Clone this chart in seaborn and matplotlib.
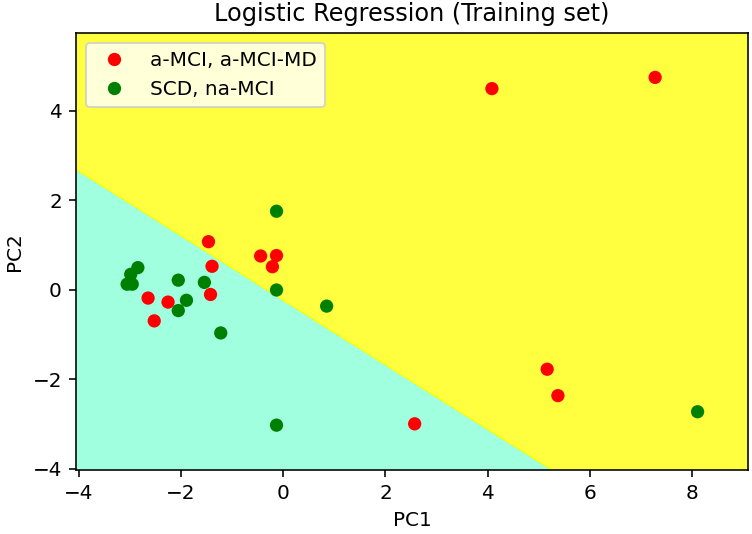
import numpy as np
import pandas as pd
import matplotlib
matplotlib.use("Agg")
import matplotlib.pyplot as plt
from matplotlib.colors import ListedColormap
import seaborn as sns

# ---------------- DATA ----------------
red_pc1 = [-1.46, -1.39, -1.42, -0.44, -0.13, -0.21, -2.64, -2.25, -2.52,
           4.08, 7.27, 5.16, 5.37, 2.57]
red_pc2 = [1.07, 0.52, -0.11, 0.75, 0.76, 0.51, -0.19, -0.28, -0.70,
           4.49, 4.74, -1.78, -2.37, -3.00]
green_pc1 = [-0.13, -2.84, -2.98, -3.05, -2.95, -2.05, -1.54, -1.89, -2.05,
             -0.13, 0.85, -1.22, -0.13, 8.10]
green_pc2 = [1.75, 0.49, 0.34, 0.12, 0.12, 0.21, 0.16, -0.24, -0.47,
             -0.01, -0.37, -0.97, -3.03, -2.73]
labels = ["a-MCI, a-MCI-MD", "SCD, na-MCI"]

# decision line: w1*PC1 + w2*PC2 + b = 0
w1, w2, b = 0.722, 1.0, 0.238

df = pd.DataFrame({
    "PC1": red_pc1 + green_pc1,
    "PC2": red_pc2 + green_pc2,
    "group": [labels[0]] * len(red_pc1) + [labels[1]] * len(green_pc1),
})

# ---------------- PLOT ----------------
sns.set_style("ticks", {"text.color": "black", "axes.labelcolor": "black",
                        "xtick.color": "black", "ytick.color": "black"})
plt.rcParams["font.family"] = ["DejaVu Sans"]

DPI = 144
fig, ax = plt.subplots(figsize=(752 / DPI, 534 / DPI), dpi=DPI)
fig.subplots_adjust(left=0.101, right=0.995, top=0.938, bottom=0.120)

X1, X2 = np.meshgrid(np.arange(df.PC1.min() - 1, df.PC1.max() + 1, 0.01),
                     np.arange(df.PC2.min() - 1, df.PC2.max() + 1, 0.01))
Z = (w1 * X1 + w2 * X2 + b > 0).astype(int)
ax.contourf(X1, X2, Z, alpha=0.75, cmap=ListedColormap(("aquamarine", "yellow")))
ax.set_xlim(X1.min(), X1.max())
ax.set_ylim(X2.min(), X2.max())

sns.scatterplot(data=df, x="PC1", y="PC2", hue="group",
                palette={labels[0]: "red", labels[1]: "green"},
                s=44, linewidth=0, ax=ax)

ax.set_title("Logistic Regression (Training set)")
ax.set_xlabel("PC1")
ax.set_ylabel("PC2")
ax.legend(loc="upper left", title=None)
for sp in ax.spines.values():
    sp.set_linewidth(0.8)
    sp.set_color("black")

fig.savefig("out.png", dpi=DPI)
